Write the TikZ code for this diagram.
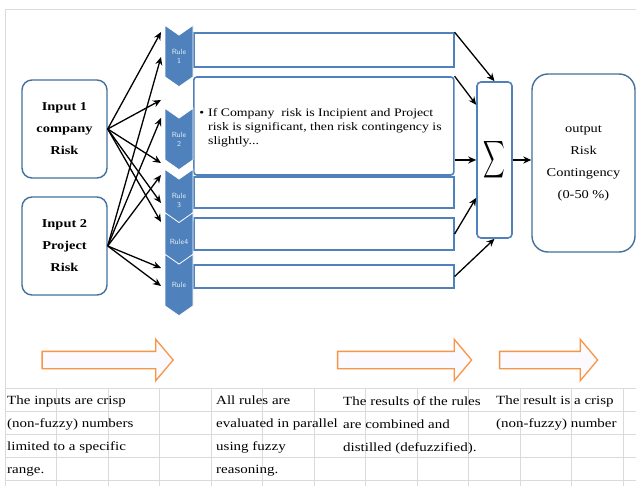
\documentclass[tikz,border=0pt]{standalone}
\usepackage{fontspec}
\setmainfont{Liberation Serif}[FakeStretch=1.2]
\usepackage{graphicx}
\usetikzlibrary{arrows.meta,positioning,calc,shapes.arrows,shapes.symbols}
\definecolor{fzblue}{HTML}{4F81BD}
\definecolor{fzedge}{HTML}{41719C}
\definecolor{fzorange}{HTML}{F79646}
\definecolor{fzgrid}{HTML}{DADADA}

\begin{document}
\begin{tikzpicture}[x=1pt,y=-1pt,
    inbox/.style={draw=fzedge,line width=1.4pt,fill=white,rounded corners=10pt,
      minimum width=85pt,minimum height=98pt,align=center,font=\fontsize{12}{22}\selectfont\bfseries},
    rulebox/.style={draw=fzblue,line width=1.6pt,fill=white,anchor=west,minimum width=260pt,inner sep=0pt},
    chev/.style={signal,signal to=south,signal from=north,signal pointer angle=110,
      fill=fzblue,draw=white,line width=0.8pt,minimum width=28pt,minimum height=52pt,inner sep=0pt,
      text=white!85!fzblue,align=center,font=\sffamily\fontsize{7.5}{9}\selectfont},
    bigarr/.style={single arrow,draw=fzorange,line width=1.3pt,fill=blue!2,inner xsep=0pt,inner ysep=8pt,
      single arrow head extend=12pt,single arrow tip angle=100},
    arr/.style={-{Stealth[length=8pt,width=7pt]},line width=1.3pt},
    gridline/.style={draw=fzgrid,line width=0.5pt},
    note/.style={anchor=north west,inner sep=0pt,align=left,font=\fontsize{12.5}{23}\selectfont}]
  \clip (0,0) rectangle (636,486);
  \fill[white] (0,0) rectangle (636,486);
  % sheet grid
  \draw[gridline] (5,9) -- (636,9) (5,9) -- (5,486);
  \foreach \y in {388,411,434,457,480} \draw[gridline] (5,\y) -- (636,\y);
  \foreach \x in {56.5,108,...,636} \draw[gridline] (\x,388) -- (\x,486);
  % steps
  \node[bigarr,minimum height=131pt] (a1) at (104,360) {};
  \node[bigarr,minimum height=134pt] (a2) at (401,360) {};
  \node[bigarr,minimum height=98pt] (a3) at (545,360) {};
  \node[note] (n1) at (7,396) {The inputs are crisp\\(non-fuzzy) numbers\\limited to a specific\\range.};
  \node[note] (n2) at (216,396) {All rules are\\evaluated in parallel\\using fuzzy\\reasoning.};
  \node[note] (n3) at (343,396) {The results of the rules\\are combined and\\distilled (defuzzified).};
  \node[note] (n4) at (496,396) {The result is a crisp\\(non-fuzzy) number};
  % inputs
  \node[inbox] (in1) at (64.5,129) {Input 1\\company\\Risk};
  \node[inbox] (in2) at (64.5,246) {Input 2\\Project\\Risk};
  % rules
  \node[rulebox,minimum height=34pt] (b1) at (193,50) {};
  \node[rulebox,minimum height=98pt,rounded corners=3pt] (b2) at (193,126) {};
  \node[rulebox,minimum height=31pt] (b3) at (193,192.5) {};
  \node[rulebox,minimum height=32pt] (b4) at (193,234) {};
  \node[rulebox,minimum height=23pt] (b5) at (193,276.5) {};
  \foreach \y/\txt [count=\i] in {56/{Rule\\1},139/{Rule\\2},200/{Rule\\3},242/Rule4,285/Rule}
    \node[chev] (r\i) at (179,\y) {\txt};
  \node[anchor=north west,inner sep=0pt,align=left,font=\fontsize{11.5}{14}\selectfont] (rtxt) at (208,108)
    {\llap{\textbullet\hspace{4pt}}If Company\ \ risk is Incipient and Project\\risk is significant, then risk contingency is\\slightly...};
  \foreach \n/\y in {1/32,2/100,3/163,4/203,5/222,6/57,7/118,8/175,9/268,10/286}
    \coordinate (t\n) at (161,\y);
  \foreach \n in {1,...,5} \draw[arr] (in1.east) -- (t\n);
  \foreach \n in {6,...,10} \draw[arr] (in2.east) -- (t\n);
  % aggregation and output
  \node[draw=fzblue,line width=1.6pt,fill=white,rounded corners=4pt,minimum width=35pt,
    minimum height=156pt,inner sep=0pt] (sig) at (494.5,160) {\scalebox{1.5}[2.6]{$\displaystyle\sum$}};
  \node[draw=fzedge,line width=1.4pt,rounded corners=16pt,minimum width=103pt,minimum height=178pt,
    align=center,font=\fontsize{12}{22}\selectfont] (out) at (583.5,163) {output\\Risk\\Contingency\\(0-50 \%)};
  \draw[arr] (b1.north east) -- (sig.north);
  \draw[arr] (b2.north east) -- ($(sig.north west)!0.15!(sig.south west)$);
  \draw[arr] (b2.east |- sig.west) -- (sig.west);
  \draw[arr] (b4.east) -- ($(sig.north west)!0.74!(sig.south west)$);
  \draw[arr] (b5.east) -- (sig.south);
  \draw[arr] (sig.east) -- (out.west |- sig.east);
\end{tikzpicture}
\end{document}
